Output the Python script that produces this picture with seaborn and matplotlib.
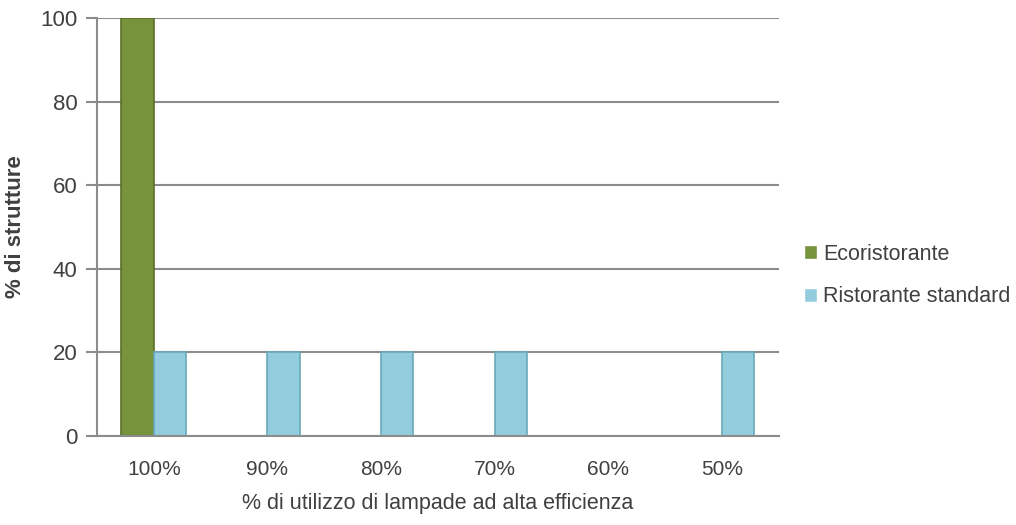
import seaborn as sns
import matplotlib.pyplot as plt
import pandas as pd

sns.set_style("white")
plt.rcParams['font.family'] = ['Liberation Sans Narrow', 'Liberation Sans', 'DejaVu Sans']

categories = ["100%", "90%", "80%", "70%", "60%", "50%"]
series_names = ["Ecoristorante", "Ristorante standard"]
eco_values = [100, 0, 0, 0, 0, 0]
standard_values = [20, 20, 20, 20, 0, 20]

rows = []
for cat, e, s in zip(categories, eco_values, standard_values):
    rows.append({"Categoria": cat, "Serie": series_names[0], "Valore": e})
    rows.append({"Categoria": cat, "Serie": series_names[1], "Valore": s})
df = pd.DataFrame(rows)

palette = {"Ecoristorante": "#77933C", "Ristorante standard": "#93CDDD"}
edges = {"Ecoristorante": "#5A7028", "Ristorante standard": "#6AAABB"}

fig = plt.figure(figsize=(10.16, 5.25), dpi=100)
ax = fig.add_axes([0.0955, 0.1695, 0.671, 0.796])
sns.barplot(data=df, x="Categoria", y="Valore", hue="Serie", palette=palette,
            width=0.57, ax=ax, saturation=1)

# darker borders per series
for container, name in zip(ax.containers, series_names):
    for bar in container:
        bar.set_edgecolor(edges[name])
        bar.set_linewidth(1.2)
        if bar.get_height() == 0:
            bar.set_visible(False)

ax.set_ylim(0, 100)
ax.set_yticks([0, 20, 40, 60, 80, 100])
ax.set_xlim(-0.5, 5.5)
ax.yaxis.grid(True, color="#8c8c8c", linewidth=1.5)
ax.set_axisbelow(True)
for side in ["top", "right"]:
    ax.spines[side].set_visible(False)
ax.spines["left"].set_color("#8c8c8c")
ax.spines["bottom"].set_color("#8c8c8c")
ax.spines["left"].set_linewidth(1.5)
ax.spines["bottom"].set_linewidth(1.5)
ax.tick_params(axis="y", left=True, length=8, color="#8c8c8c", width=1.5,
               labelsize=16, labelcolor="#404040", pad=6)
ax.tick_params(axis="x", bottom=False, labelsize=15, labelcolor="#404040", pad=14)

ax.set_xlabel("% di utilizzo di lampade ad alta efficienza", fontsize=15.5,
              color="#404040", labelpad=10)
ax.set_ylabel("% di strutture", fontsize=16, fontweight="bold", color="#404040",
              labelpad=10)

handles, labels = ax.get_legend_handles_labels()
leg = ax.legend(handles, labels, loc="center left", bbox_to_anchor=(0.772, 0.475),
                bbox_transform=fig.transFigure, frameon=False, fontsize=15.5,
                handlelength=0.6, handleheight=0.6, handletextpad=0.3,
                labelspacing=1.0, labelcolor="#404040")

fig.savefig("out.png", dpi=100)
